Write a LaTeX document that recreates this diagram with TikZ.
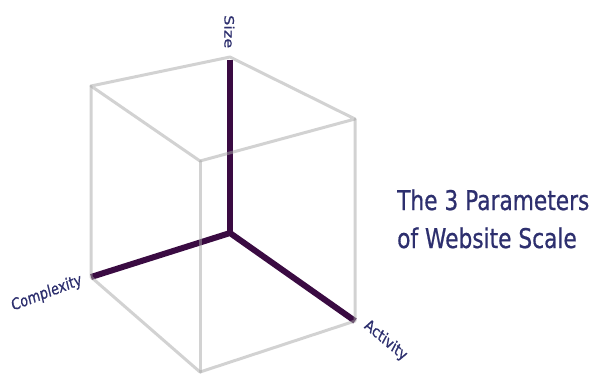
\documentclass[tikz,border=0pt]{standalone}
\usepackage{fontspec}
\usepackage{graphicx}
\setmainfont{DejaVu Sans}
\newfontfamily\heavyfont{DejaVu Sans}[FakeBold=0.8]
\definecolor{edgegray}{HTML}{A6A6A6}
\definecolor{axispurple}{HTML}{3A0B42}
\definecolor{labelnavy}{HTML}{2D2F6E}
% text in the picture is stretched upwards
\newcommand{\vstretch}[2]{\scalebox{1}[1.25]{\rotatebox{#1}{#2}}}
\begin{document}
\begin{tikzpicture}[
    x=1pt, y=-1pt,
    cubeedge/.style={draw=edgegray, draw opacity=0.5, line width=3pt, line cap=round, line join=round},
    axisline/.style={draw=axispurple, line width=6pt},
    axislabel/.style={text=labelnavy, font=\heavyfont\fontsize{12.9}{15}\selectfont, inner sep=0pt},
    titletext/.style={text=labelnavy, font=\heavyfont\fontsize{21.7}{26}\selectfont, inner sep=0pt, anchor=base west}
]
\useasboundingbox (0,0) rectangle (597,376);

% Cube corners
\coordinate (top) at (230,57);
\coordinate (topleft) at (91,86);
\coordinate (topright) at (355,119);
\coordinate (topfront) at (200,161);
\coordinate (botleft) at (91,277);
\coordinate (botright) at (355,321);
\coordinate (botfront) at (200,372);
\coordinate (origin) at (230,233);
\coordinate (sizeend) at (230,60);

% Axes
\draw[axisline] (botleft) -- (origin) -- (botright);
\draw[axisline] (origin) -- (sizeend);

% Cube
\draw[cubeedge] (topleft) -- (top) -- (topright) -- (topfront) -- cycle;
\draw[cubeedge] (topleft) -- (botleft) -- (botfront) -- (botright) -- (topright);
\draw[cubeedge] (topfront) -- (botfront);

% Axis labels
\node[axislabel] (size) at (229.3,31.7) {\vstretch{-90}{Size}};
\node[axislabel] (complexity) at (46.7,293.3) {\vstretch{17}{Complexity}};
\node[axislabel] (activity) at (385.7,340.7) {\vstretch{-34}{Activity}};

% Title
\node[titletext] (title1) at (397,210) {\scalebox{1}[1.25]{The 3 Parameters}};
\node[titletext] (title2) at (397,248) {\scalebox{1}[1.25]{of Website Scale}};
\end{tikzpicture}
\end{document}
